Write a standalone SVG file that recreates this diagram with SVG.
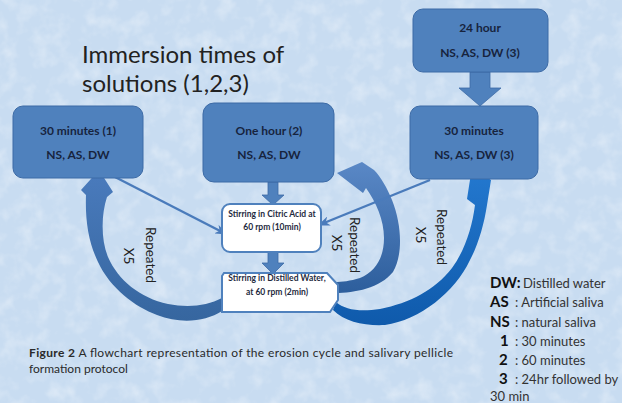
<svg xmlns="http://www.w3.org/2000/svg" width="622" height="403" viewBox="0 0 622 403">
  <defs>
    <filter id="grain" x="0" y="0" width="100%" height="100%">
      <feTurbulence type="fractalNoise" baseFrequency="0.06" numOctaves="3" seed="7" result="n"/>
      <feColorMatrix in="n" type="matrix" values="0 0 0 0 1  0 0 0 0 1  0 0 0 0 1  0 0 0 1.6 -0.7"/>
    </filter>
    <linearGradient id="gLeft" x1="0" y1="0" x2="0" y2="1">
      <stop offset="0" stop-color="#4a7bbd"/>
      <stop offset="1" stop-color="#36669f"/>
    </linearGradient>
    <linearGradient id="gMid" x1="0" y1="0" x2="0" y2="1">
      <stop offset="0" stop-color="#5a88c6"/>
      <stop offset="1" stop-color="#2d5e9c"/>
    </linearGradient>
    <linearGradient id="gRight" x1="0" y1="0" x2="0" y2="1">
      <stop offset="0" stop-color="#2479d0"/>
      <stop offset="1" stop-color="#0f5aab"/>
    </linearGradient>
    <marker id="head" viewBox="0 0 10 8" refX="9" refY="4" markerWidth="5" markerHeight="4" orient="auto" markerUnits="strokeWidth">
      <path d="M0,0 L10,4 L0,8 L3,4 Z" fill="#4a7bbb"/>
    </marker>
    <style>
      .blk { fill: #4f81bd; stroke: #3d6ba6; stroke-width: 1; }
      .blk-t { font-family: Lato, "Liberation Sans", sans-serif; font-weight: bold; font-size: 12px; fill: #17243d; text-anchor: middle; }
      .step { fill: #ffffff; stroke: #4f81bd; stroke-width: 2; }
      .step-t { font-family: Lato, "Liberation Sans", sans-serif; font-weight: bold; font-size: 8.5px; fill: #1e2a3e; text-anchor: middle; }
      .blockarrow { fill: #4f81bd; stroke: #3d6ba6; stroke-width: 0.8; }
      .thin { stroke: #4a7bbb; stroke-width: 2.4; fill: none; marker-end: url(#head); }
      .rep { font-family: Lato, "Liberation Sans", sans-serif; font-size: 13.5px; fill: #222; text-anchor: middle; }
      .title { font-family: Lato, "Liberation Sans", sans-serif; font-size: 24px; fill: #222; }
      .lg-b { font-family: Lato, "Liberation Sans", sans-serif; font-weight: bold; font-size: 15px; fill: #111; }
      .lg { font-family: Lato, "Liberation Sans", sans-serif; font-size: 13px; fill: #333; }
      .cap { font-family: Lato, "Liberation Sans", sans-serif; font-size: 12px; fill: #2a2a2a; }
    </style>
  </defs>

  <!-- textured pale-blue backdrop -->
  <rect width="622" height="403" fill="#c8dcf1"/>
  <rect width="622" height="403" filter="url(#grain)" opacity="0.45"/>

  <!-- heading -->
  <text class="title" x="82" y="63">Immersion times of</text>
  <text class="title" x="82" y="92">solutions (1,2,3)</text>

  <!-- connectors -->
  <g id="connectors">
    <!-- repeat loop back to 30 minutes (1) -->
    <path d="M222,311 C205,322 180,324 157,315 C135,307 110,288 98,262 C89,243 85,222 86,195 L81,190 L99,170 L113,192 L107,197 C101,215 101,240 108,257 C118,280 140,298 168,304 C188,308 207,306 222,298 Z" fill="url(#gLeft)"/>
    <!-- repeat loop back to One hour (2) -->
    <path d="M335,293 C355,293 380,288 393,272 C403,255 402,225 392,200 C387,188 381,177 374,170 L362,162 L337,173 L363,193 L366,188 C376,202 384,220 384,238 C384,258 375,272 360,278 C350,281 342,282 335,282 Z" fill="url(#gMid)"/>
    <!-- repeat loop back to 30 minutes (3) -->
    <path d="M333,310 C345,322 365,326 385,325 C420,320 455,292 470,260 C478,245 484,225 487,205 L491,180 L472,167 L467,199 L475,205 C472,228 465,250 452,268 C435,290 410,303 380,309 C360,312 345,310 336,302 Z" fill="url(#gRight)"/>

    <!-- thin feeds into the citric acid step -->
    <line class="thin" x1="115" y1="177" x2="226" y2="234"/>
    <line class="thin" x1="430" y1="180" x2="319" y2="225"/>

    <!-- block arrows -->
    <path class="blockarrow" d="M470,72 L490,72 L490,88 L501,88 L480,106 L459,88 L470,88 Z"/>
    <path class="blockarrow" d="M268,182 L278,182 L278,195 L284,195 L273,205 L262,195 L268,195 Z"/>
    <path class="blockarrow" d="M268,252 L278,252 L278,263 L284,263 L273,274 L262,263 L268,263 Z"/>
  </g>

  <g id="box-30min-1">
    <rect class="blk" x="13" y="106" width="130" height="72" rx="10"/>
    <text class="blk-t" x="78" y="135">30 minutes (1)</text>
    <text class="blk-t" x="78" y="159">NS, AS, DW</text>
  </g>

  <g id="box-1hour-2">
    <rect class="blk" x="203" y="103" width="131" height="79" rx="11"/>
    <text class="blk-t" x="269" y="135">One hour (2)</text>
    <text class="blk-t" x="269" y="159">NS, AS, DW</text>
  </g>

  <g id="box-24hour">
    <rect class="blk" x="413" y="9" width="135" height="63" rx="10"/>
    <text class="blk-t" x="480" y="32">24 hour</text>
    <text class="blk-t" x="480" y="57">NS, AS, DW (3)</text>
  </g>

  <g id="box-30min-3">
    <rect class="blk" x="410" y="106" width="128" height="73" rx="10"/>
    <text class="blk-t" x="474" y="135">30 minutes</text>
    <text class="blk-t" x="474" y="159">NS, AS, DW (3)</text>
  </g>

  <g id="step-citric">
    <rect class="step" x="222" y="204" width="99" height="48" rx="8"/>
    <text class="step-t" x="272" y="217">Stirring in Citric Acid at</text>
    <text class="step-t" x="272" y="230">60 rpm (10min)</text>
  </g>

  <g id="step-distilled">
    <path class="step" stroke-width="1.5" d="M224,273 L327,273 L338,285 L338,300 L330,312 L222,312 L222,276 Z"/>
    <text class="step-t" x="277" y="281">Stirring in Distilled Water,</text>
    <text class="step-t" x="277" y="295">at 60 rpm (2min)</text>
  </g>

  <!-- loop labels, set vertically -->
  <g id="label-left">
    <text class="rep" transform="translate(146,255) rotate(90)">Repeated</text>
    <text class="rep" transform="translate(124,256) rotate(90)">X5</text>
  </g>
  <g id="label-mid">
    <text class="rep" transform="translate(350,245) rotate(90)">Repeated</text>
    <text class="rep" transform="translate(332,243) rotate(90)">X5</text>
  </g>
  <g id="label-right">
    <text class="rep" transform="translate(437,237) rotate(90)">Repeated</text>
    <text class="rep" transform="translate(416,235) rotate(90)">X5</text>
  </g>

  <!-- abbreviations -->
  <g id="legend">
    <text class="lg-b" x="490" y="288">DW:</text><text class="lg" x="523" y="288">Distilled water</text>
    <text class="lg-b" x="490" y="307">AS</text><text class="lg" x="515" y="307">: Artificial saliva</text>
    <text class="lg-b" x="490" y="327">NS</text><text class="lg" x="515" y="327">: natural saliva</text>
    <text class="lg-b" x="500" y="346">1</text><text class="lg" x="515" y="346">: 30 minutes</text>
    <text class="lg-b" x="499" y="365">2</text><text class="lg" x="515" y="365">: 60 minutes</text>
    <text class="lg-b" x="499" y="384">3</text><text class="lg" x="515" y="384">: 24hr followed by</text>
    <text class="lg" x="490" y="401">30 min</text>
  </g>

  <!-- figure caption -->
  <g id="caption">
    <text class="cap" x="29" y="357" textLength="424" lengthAdjust="spacing"><tspan font-weight="bold">Figure 2</tspan> A flowchart representation of the erosion cycle and salivary pellicle</text>
    <text class="cap" x="29" y="373">formation protocol</text>
  </g>
</svg>
